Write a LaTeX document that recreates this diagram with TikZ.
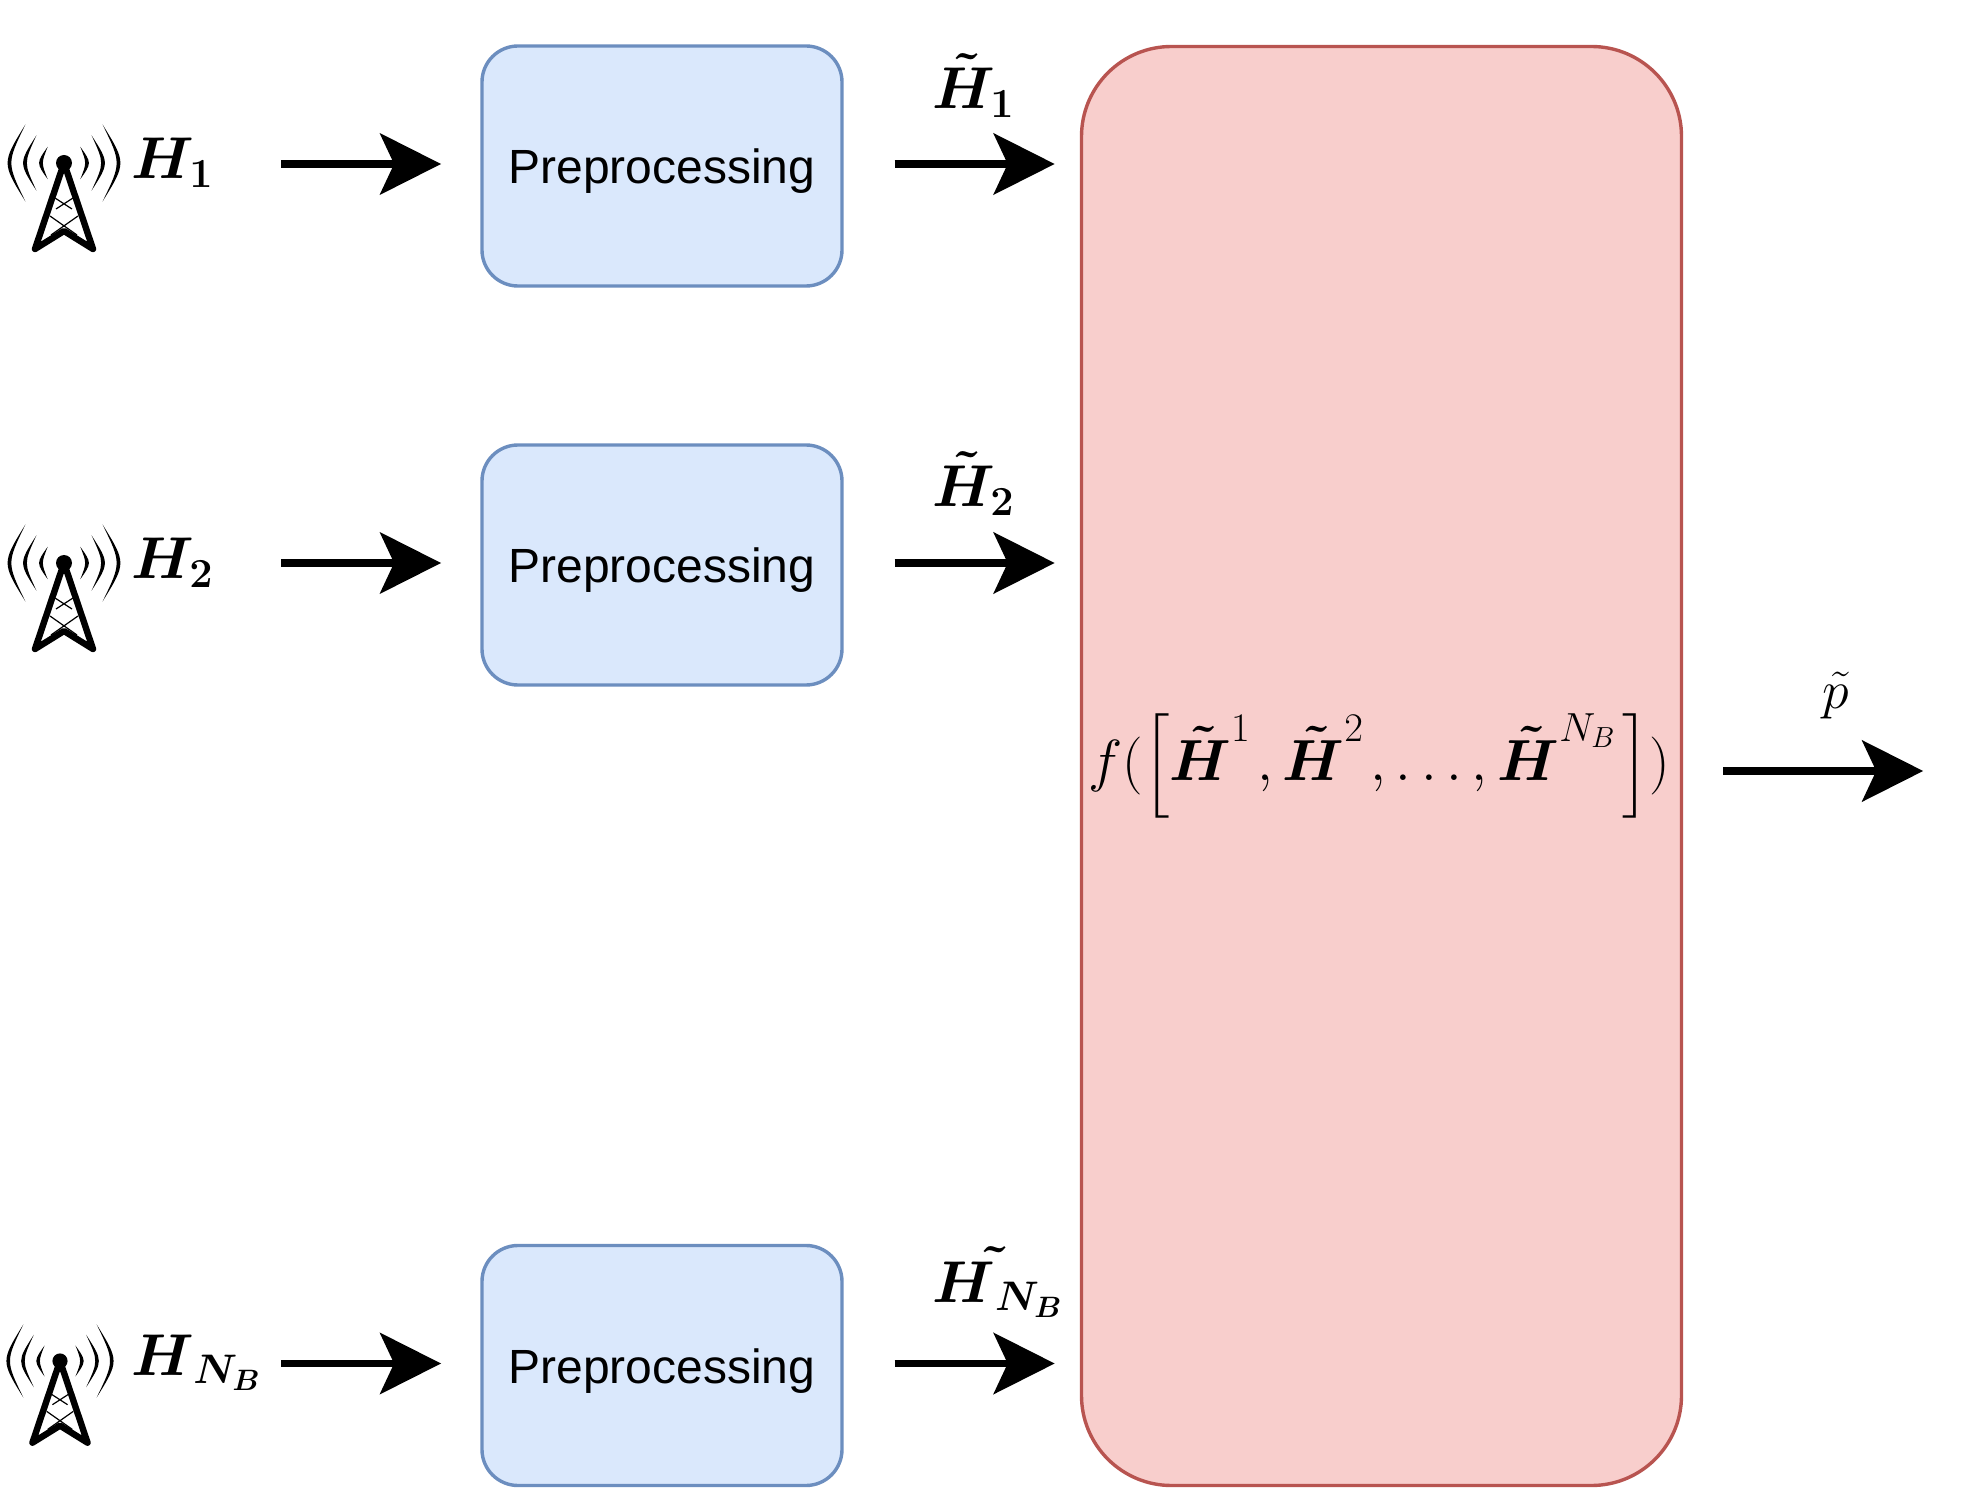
\documentclass[tikz,border=0pt]{standalone}
\usepackage{fix-cm}
\usepackage{amsmath}
\usepackage{fontspec}
\setmainfont{Liberation Sans}
\usetikzlibrary{arrows.meta}
\usetikzlibrary{calc}
\usetikzlibrary{positioning}

\newcommand{\tallbrk}[1]{\vcenter{\hbox{\scalebox{1}[0.875]{$\Bigl#1$}}}}

\tikzset{
    prepbox/.style={draw=prepline, fill=prepfill, line width=1.7pt, rounded corners=18pt,
        minimum width=180pt, minimum height=120pt, inner sep=0pt, text height=23pt, text depth=5pt,
        font=\fontsize{24}{28}\selectfont},
    funcbox/.style={draw=funcline, fill=funcfill, line width=1.7pt, rounded corners=45pt,
        minimum width=300pt, minimum height=719.5pt, inner sep=0pt},
    flow/.style={line width=3.7pt, -{Stealth[length=30.5pt,width=30.5pt,inset=7pt]}},
    symb/.style={inner sep=0pt, font=\fontsize{29.5}{35}\selectfont},
    antenna/.pic={
        \foreach \r in {23,39,54.5} \foreach \s in {-1,1} {
            \fill ({\s*0.707*\r},{-0.707*\r}) .. controls ({\s*(1.098*\r+2.5)},0) .. ({\s*0.707*\r},{0.707*\r})
                .. controls ({\s*(1.098*\r-2.5)},0) .. cycle;
        }
        \fill (0,0) circle (8);
        \draw[line width=3.2pt, line join=round, line cap=round] (-29,86) -- (0,0) -- (29,86) -- (0,68) -- cycle;
        \draw[line width=0.6pt] (-9,35) -- (8,46) (9,35) -- (-8,46) (-14,53) -- (13,72) (14,53) -- (-13,72);
    }
}
\definecolor{prepfill}{HTML}{DAE8FC}
\definecolor{prepline}{HTML}{6C8EBF}
\definecolor{funcfill}{HTML}{F8CECC}
\definecolor{funcline}{HTML}{B85450}

\begin{document}
\begin{tikzpicture}[x=0.5pt,y=-0.5pt]

    \useasboundingbox (0,0) rectangle (1972,1492);

    \node[funcbox] (func) at (1381.5,766) {};
    \node[inner sep=0pt, font=\fontsize{29}{34}\selectfont] (formula) at (1379,766) {$\displaystyle f(\tallbrk{[}\boldsymbol{\tilde{H}}^{1}\mkern2mu,\boldsymbol{\tilde{H}}^{2}\mkern2mu,\dots,\boldsymbol{\tilde{H}}^{N_B}\mkern2mu\tallbrk{]})$};

    \node[prepbox] (prep1) at (662,166) {Preprocessing};
    \node[prepbox] (prep2) at (662,565) {Preprocessing};
    \node[prepbox] (prep3) at (662,1365.5) {Preprocessing};

    \pic (ant1) at (64,163) {antenna};
    \pic (ant2) at (64,563) {antenna};
    \pic[scale=0.95] (ant3) at (60,1361) {antenna};

    \node[symb, anchor=base west] (in1) at (131,179) {$\boldsymbol{H_1}$};
    \node[symb, anchor=base west] (in2) at (131,579) {$\boldsymbol{H_2}$};
    \node[symb, anchor=base west] (in3) at (131,1375) {$\boldsymbol{H_{\mkern1.5mu N_B}}$};

    \node[symb, anchor=base west] (out1) at (932,109) {$\boldsymbol{\tilde{H}_1}$};
    \node[symb, anchor=base west] (out2) at (932,507) {$\boldsymbol{\tilde{H}_2}$};
    \node[symb, anchor=base west] (out3) at (932,1302) {$\boldsymbol{H\tilde{\vphantom{H}}_{N_B}}$};

    % arrows left and right of the boxes
    \foreach \i in {1,2,3} {
        \draw[flow] ([xshift=-99.5pt,yshift=1pt]prep\i.west) -- ([xshift=-19.6pt,yshift=1pt]prep\i.west);
        \draw[flow] ([xshift=25.5pt,yshift=1pt]prep\i.east) -- ([xshift=105.5pt,yshift=1pt]prep\i.east);
    }

    \coordinate (pstart) at ([xshift=20pt,yshift=-2.5pt]func.east);
    \draw[flow] (pstart) -- ++(200,0) coordinate (pend);
    \node[inner sep=0pt, font=\fontsize{27}{32}\selectfont, anchor=base] (pout) at (1836,708) {$\tilde{p}$};

\end{tikzpicture}
\end{document}
